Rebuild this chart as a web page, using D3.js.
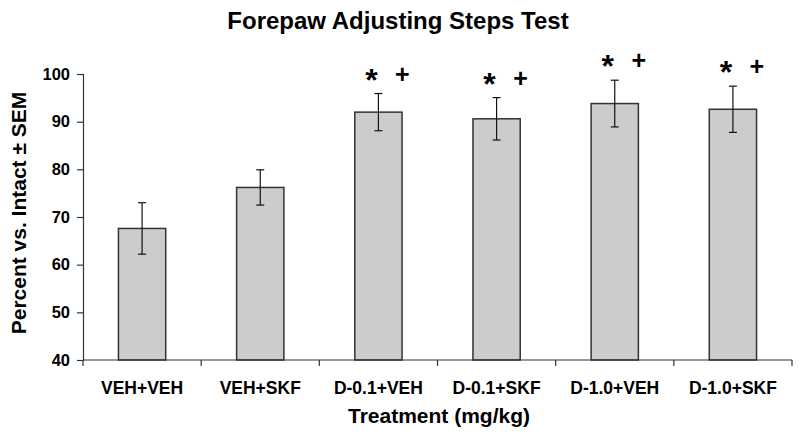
<!DOCTYPE html>
<html><head><meta charset="utf-8">
<script src="https://cdn.jsdelivr.net/npm/d3@7"></script>
<style>body{margin:0;background:#fff}svg{display:block}text{font-family:"Liberation Sans",Arial,sans-serif;font-weight:bold}</style>
</head><body><svg id="c" width="800" height="437"></svg>
<script>
const categories = ["VEH+VEH","VEH+SKF","D-0.1+VEH","D-0.1+SKF","D-1.0+VEH","D-1.0+SKF"];
const means = [67.6, 76.2, 92.0, 90.6, 93.8, 92.6];
const sems = [5.4, 3.7, 3.9, 4.45, 4.9, 4.85];
const marks = ["", "", "*+", "*+", "*+", "*+"];
const yTicks = [40,50,60,70,80,90,100];

const svg = d3.select("#c");
const m = {l:83};
const x = d3.scaleBand().domain(categories).range([m.l, 792]).paddingInner(0.6).paddingOuter(0.3);
const xb = d3.scaleBand().domain(categories).range([m.l, 792]);
const y = d3.scaleLinear().domain([40,100]).range([360, 74]);

// y axis
const ya = svg.append("g").attr("transform",`translate(${m.l},0)`)
  .call(d3.axisLeft(y).tickValues(yTicks).tickSize(6).tickPadding(7).tickFormat(d3.format("d")));
ya.select(".domain").attr("stroke","#333").attr("stroke-width",1.2);
ya.selectAll(".tick line").attr("stroke","#333").attr("stroke-width",1.2);
ya.selectAll(".tick text").attr("font-size",16.5).attr("fill","#000").attr("font-family","Liberation Sans").attr("font-weight","bold");

// bars
svg.append("g").selectAll("rect").data(categories).join("rect")
  .attr("x", d=>x(d)).attr("width", x.bandwidth())
  .attr("y", (d,i)=>y(means[i])).attr("height",(d,i)=>y(40)-y(means[i]))
  .attr("fill","#cccccc").attr("stroke","#333").attr("stroke-width",1.5);

// error bars
const eg = svg.append("g").attr("stroke","#111").attr("stroke-width",1.2);
categories.forEach((c,i)=>{
  const cx = x(c)+x.bandwidth()/2;
  const t = y(means[i]+sems[i]), b = y(means[i]-sems[i]);
  eg.append("line").attr("x1",cx).attr("x2",cx).attr("y1",t).attr("y2",b);
  eg.append("line").attr("x1",cx-4).attr("x2",cx+4).attr("y1",t).attr("y2",t);
  eg.append("line").attr("x1",cx-4).attr("x2",cx+4).attr("y1",b).attr("y2",b);
});

// x axis
const xg = svg.append("g");
xg.append("line").attr("x1",m.l).attr("x2",792).attr("y1",360).attr("y2",360).attr("stroke","#333").attr("stroke-width",1.2);
const bounds = categories.map(c=>xb(c)).concat([xb(categories[categories.length-1])+xb.bandwidth()]);
xg.selectAll("line.tk").data(bounds).join("line").attr("class","tk")
  .attr("x1",d=>d).attr("x2",d=>d).attr("y1",360).attr("y2",366).attr("stroke","#333").attr("stroke-width",1.2);
xg.selectAll("text").data(categories).join("text")
  .attr("x",d=>x(d)+x.bandwidth()/2).attr("y",394).attr("text-anchor","middle")
  .attr("font-size",17.5).text(d=>d);

// significance marks
categories.forEach((c,i)=>{
  if(!marks[i]) return;
  const cx = x(c)+x.bandwidth()/2;
  const t = y(means[i]+sems[i]);
  svg.append("text").attr("x",cx-7).attr("y",t-3).attr("text-anchor","middle").attr("font-size",32).text(marks[i][0]);
  svg.append("text").attr("x",cx+24).attr("y",t-11).attr("text-anchor","middle").attr("font-size",25).text(marks[i][1]);
});

// titles
svg.append("text").attr("x",398).attr("y",29).attr("text-anchor","middle").attr("font-size",24).text("Forepaw Adjusting Steps Test");
svg.append("text").attr("x",439).attr("y",423).attr("text-anchor","middle").attr("font-size",21).text("Treatment (mg/kg)");
svg.append("text").attr("transform","translate(26,213) rotate(-90)").attr("text-anchor","middle").attr("font-size",21).text("Percent vs. Intact ± SEM");
</script></body></html>
